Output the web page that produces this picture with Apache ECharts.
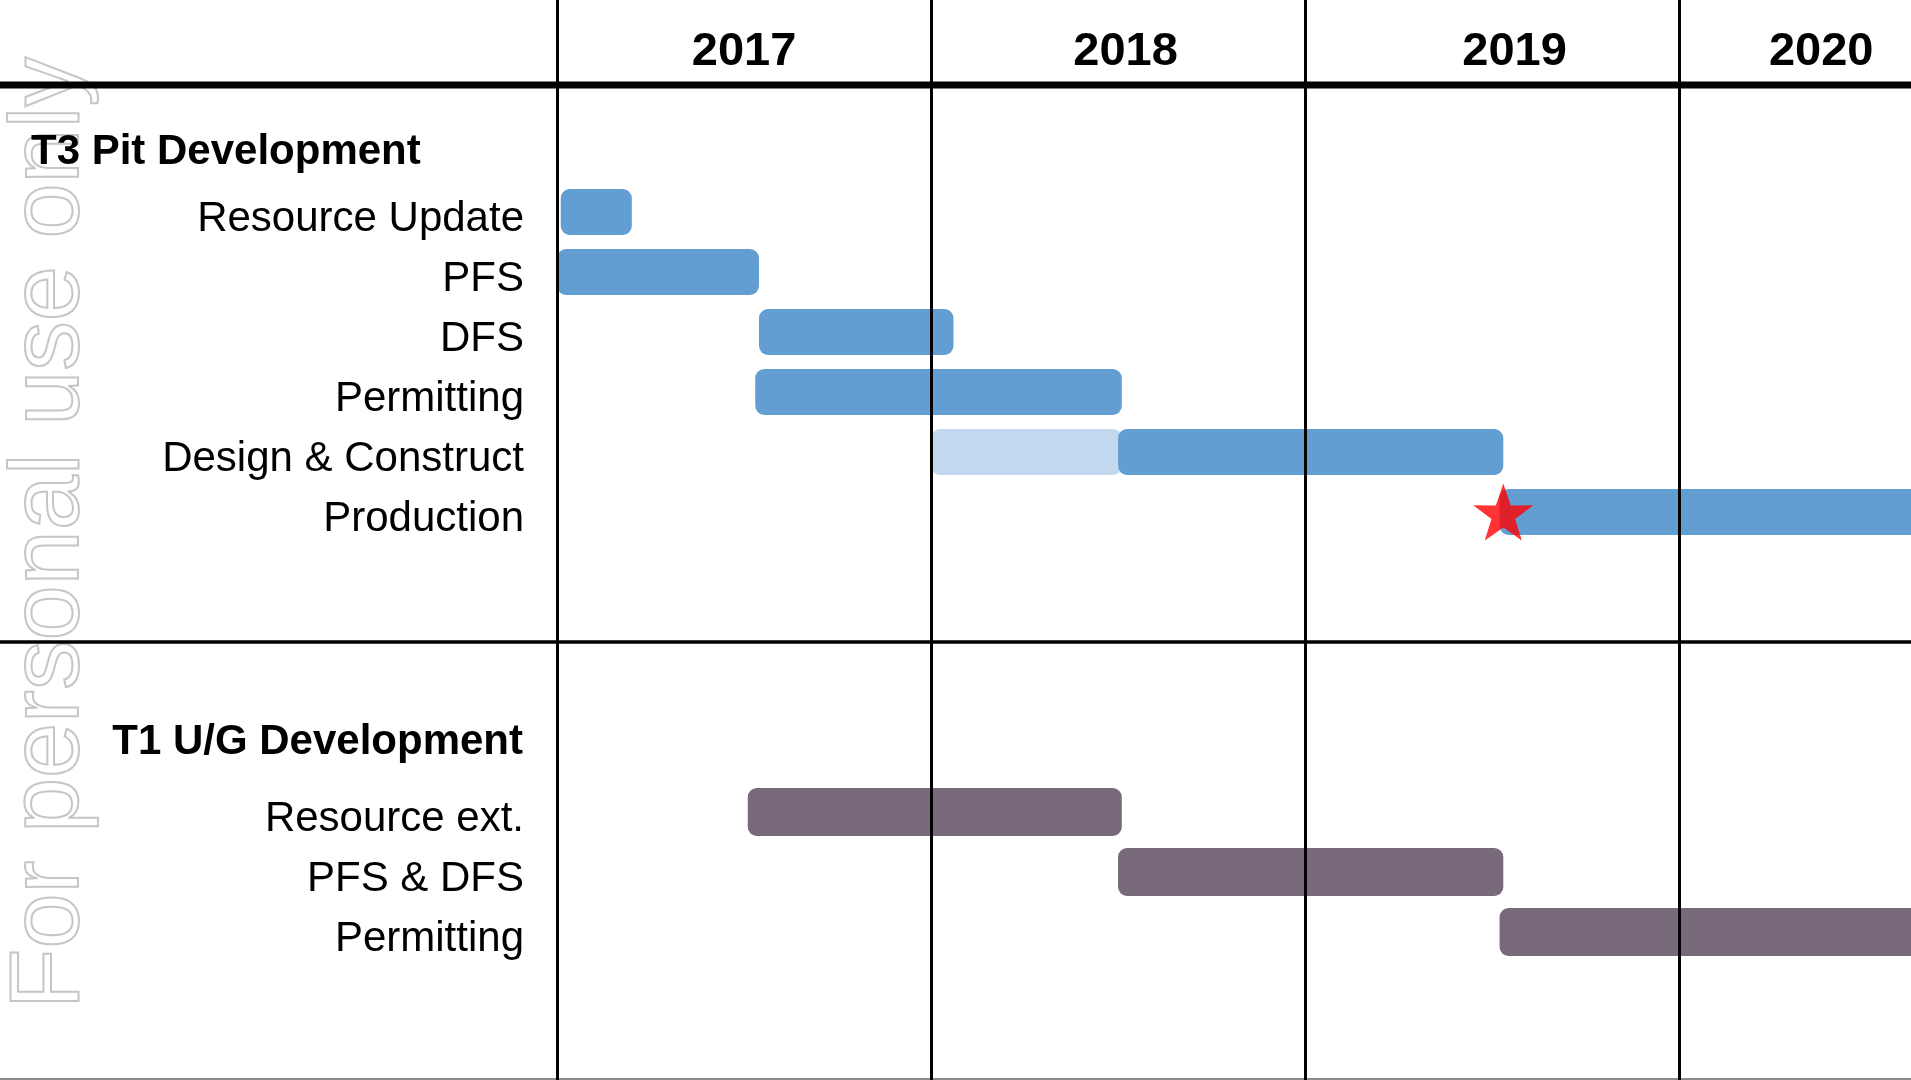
<!DOCTYPE html>
<html>
<head>
<meta charset="utf-8">
<style>
html,body{margin:0;padding:0;background:#fff;}
#chart{width:1911px;height:1080px;}
</style>
<script src="https://cdn.jsdelivr.net/npm/echarts@6/dist/echarts.min.js"></script>
</head>
<body>
<div id="chart"></div>
<script>
// ---- data ----
const yearLabels = ['2017', '2018', '2019', '2020'];
const yearBoundaries = [2017, 2018, 2019, 2020];
const yearLabelAt = [2017.50, 2018.52, 2019.56, 2020.38];

const t3Header = 'T3 Pit Development';
const t3Tasks = ['Resource Update', 'PFS', 'DFS', 'Permitting', 'Design & Construct', 'Production'];
const t3Rows = [0, 1, 2, 3, 4, 5];
const t3Start = [2017.01, 2017.00, 2017.54, 2017.53, 2018.50, 2019.52];
const t3End = [2017.20, 2017.54, 2018.06, 2018.51, 2019.53, 2020.75];
// lighter early phase of Design & Construct
const designEarlyStart = 2018.00;
const designEarlyEnd = 2018.51;
const productionStartMilestone = 2019.53;

const t1Header = 'T1 U/G Development';
const t1Tasks = ['Resource ext.', 'PFS & DFS', 'Permitting'];
const t1Rows = [10, 11, 12];
const t1Start = [2017.51, 2018.50, 2019.52];
const t1End = [2018.51, 2019.53, 2020.75];

const watermark = 'For personal use only';

// ---- build ----
const FONT = '"Liberation Sans", Arial, Helvetica, sans-serif';
const BLUE = '#629ed1', LIGHT = '#c1d8ee', PURPLE = '#786a7b';
const groupColor = [BLUE, LIGHT, PURPLE];
const groupHeight = [46, 46, 48];

const rowLabel = {};
t3Rows.forEach((r, i) => rowLabel[r] = t3Tasks[i]);
t1Rows.forEach((r, i) => rowLabel[r] = t1Tasks[i]);

const barData = [];
t3Tasks.forEach((n, i) => {
  if (n === 'Design & Construct') barData.push([t3Rows[i], designEarlyStart, designEarlyEnd, 1]);
  barData.push([t3Rows[i], t3Start[i], t3End[i], 0]);
});
t1Tasks.forEach((n, i) => barData.push([t1Rows[i], t1Start[i], t1End[i], 2]));

const yearRow = -2.66;
const yearData = yearLabelAt.map((v, i) => [v, yearRow, i]);
const prodRow = t3Rows[t3Tasks.indexOf('Production')];

const chart = echarts.init(document.getElementById('chart'), null, {renderer: 'canvas'});
chart.setOption({
  animation: false,
  backgroundColor: '#fff',
  grid: {left: 557, right: 0, top: -28, bottom: -32, containLabel: false, outerBoundsMode: 'none'},
  xAxis: {
    type: 'value', min: 2017, max: 2020.62, interval: 1, position: 'top',
    axisLabel: {show: false}, axisLine: {show: false}, axisTick: {show: false}, splitLine: {show: false}
  },
  yAxis: {
    type: 'value', inverse: true, min: -4, max: 15, interval: 1,
    axisLine: {show: false}, axisTick: {show: false}, splitLine: {show: false},
    axisLabel: {
      margin: 33, fontSize: 42, color: '#000', fontFamily: FONT,
      verticalAlign: 'top', lineHeight: 14,
      formatter: v => rowLabel[v] || ''
    }
  },
  graphic: [
    {type: 'text', x: 51, y: 1009, rotation: Math.PI / 2, z: 0,
     style: {text: watermark, font: '99px ' + FONT, fill: 'none', stroke: '#c6c6c6', lineWidth: 2,
             textAlign: 'left', textVerticalAlign: 'middle'}},
    {type: 'line', z: 5, shape: {x1: 0, y1: 85, x2: 1911, y2: 85}, style: {stroke: '#000', lineWidth: 7}},
    {type: 'line', z: 5, shape: {x1: 0, y1: 642, x2: 1911, y2: 642}, style: {stroke: '#000', lineWidth: 3.5}},
    {type: 'line', z: 5, shape: {x1: 0, y1: 1079, x2: 1911, y2: 1079}, style: {stroke: '#8a8a8a', lineWidth: 2}},
    {type: 'text', x: 31, y: 152, z: 10,
     style: {text: t3Header, font: 'bold 42px ' + FONT, fill: '#000', textAlign: 'left', textVerticalAlign: 'middle'}},
    {type: 'text', x: 523, y: 742, z: 10,
     style: {text: t1Header, font: 'bold 42px ' + FONT, fill: '#000', textAlign: 'right', textVerticalAlign: 'middle'}}
  ],
  series: [
    {
      type: 'custom',
      z: 3,
      data: barData,
      renderItem: (params, api) => {
        const row = api.value(0), s = api.value(1), e = api.value(2), g = api.value(3);
        const p0 = api.coord([s, row]), p1 = api.coord([e, row]);
        const h = groupHeight[g];
        return {
          type: 'rect',
          shape: {x: p0[0], y: p0[1] - h / 2, width: p1[0] - p0[0], height: h, r: 9},
          style: {fill: groupColor[g]}
        };
      },
      markLine: {
        silent: true, symbol: ['none', 'none'], label: {show: false},
        lineStyle: {color: '#000', width: 3, type: 'solid'},
        data: yearBoundaries.map(v => ({xAxis: v}))
      }
    },
    {
      type: 'custom',
      z: 4,
      data: yearData,
      renderItem: (params, api) => {
        const p = api.coord([api.value(0), api.value(1)]);
        return {
          type: 'text', x: p[0], y: p[1],
          style: {text: yearLabels[api.value(2)], fill: '#000', font: 'bold 47px ' + FONT,
                  textAlign: 'center', textVerticalAlign: 'middle'}
        };
      }
    },
    {
      type: 'scatter',
      z: 6,
      data: [[productionStartMilestone, prodRow]],
      symbol: 'path://M50,0 L61.8,35.1 L97.6,34.5 L68.8,56.2 L79.4,90.5 L50,70 L20.6,90.5 L31.2,56.2 L2.4,34.5 L38.2,35.1 Z',
      symbolSize: [60, 57],
      itemStyle: {color: '#ff0000'}
    }
  ]
});
</script>
</body>
</html>
